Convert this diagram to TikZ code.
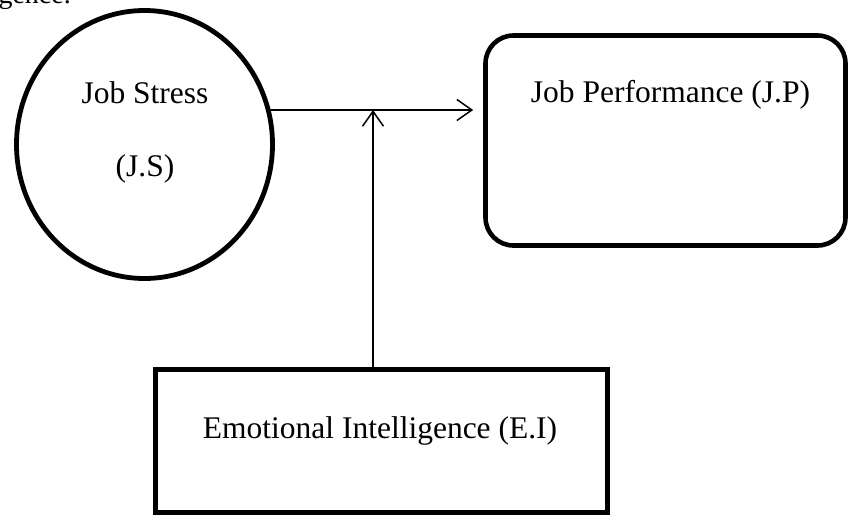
\documentclass[tikz,border=0pt]{standalone}
\usepackage{fontspec}
\setmainfont{Liberation Serif}
\usetikzlibrary{arrows.meta,shapes.geometric}
\begin{document}
\begin{tikzpicture}[x=1pt,y=-1pt,
  txt/.style={anchor=base,inner sep=0pt,font=\fontsize{31.5}{38}\selectfont},
  thick box/.style={draw,line width=4.8pt,inner sep=0pt},
  conn/.style={line width=1.5pt,-{Straight Barb[length=15pt,width=21pt,line width=1.5pt]}}]
\useasboundingbox (0,0) rectangle (849,517);
\clip (0,0) rectangle (849,517);
% cut-off text at the top
\node[txt,anchor=base east,font=\fontsize{28}{34}\selectfont] (cut) at (71,3) {igence.};
% Job Stress ellipse
\node[thick box,ellipse,minimum width=256pt,minimum height=268pt] (js) at (144.5,144.5) {};
\node[txt] (jst1) at (145,103) {Job Stress};
\node[txt] (jst2) at (145,176) {(J.S)};
% Job Performance
\node[thick box,line width=4.6pt,rounded corners=28pt,minimum width=360pt,minimum height=210pt] (jp) at (665.5,140.5) {};
\node[txt] (jpt) at (670.5,102) {Job Performance (J.P)};
% Emotional Intelligence
\node[thick box,line width=5.2pt,minimum width=452pt,minimum height=143pt] (ei) at (381.5,441) {};
\node[txt] (eit) at (380,438) {Emotional Intelligence (E.I)};
% connectors
\coordinate (s) at (268.7,110);
\coordinate (m) at (373,110);
\draw[conn,shorten >=10pt] (s) -- (jp.west |- s);
\draw[conn] (ei.north -| m) -- (m);
\end{tikzpicture}
\end{document}
